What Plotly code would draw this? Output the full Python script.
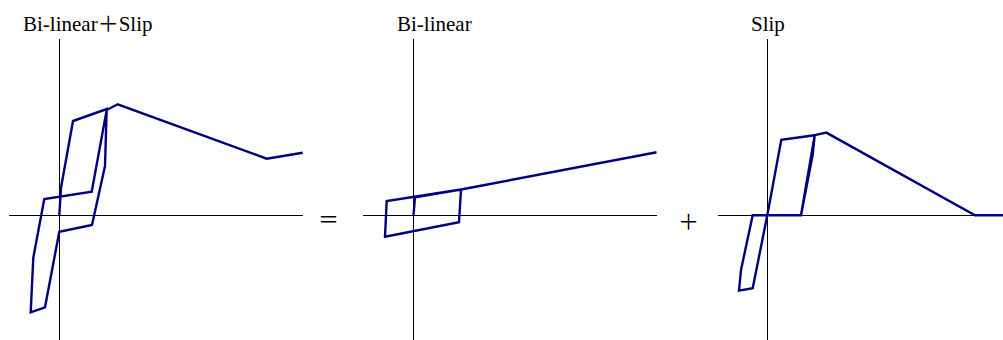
import plotly.graph_objects as go

# Hysteresis loops (displacement, force) for the three restoring-force models
combined_x = [0, 0.17, 1.37, 4.74, 4.57, 3.27, 0, -1.43, -2.86, -2.60, -1.50, 3.24, 4.74, 5.84, 20.74, 24.34]
combined_y = [0, 2.75, 9.42, 10.62, 4.92, -0.98, -1.65, -9.21, -9.71, -4.25, 1.62, 2.35, 10.52, 11.09, 5.65, 6.25]

bilinear_x = [0, 0.15, 4.75, 4.55, -2.85, -2.68, 4.75, 24.32]
bilinear_y = [0, 1.79, 2.57, -0.71, -2.15, 1.42, 2.57, 6.29]

slip_x = [0, 1.40, 4.74, 4.54, 3.37, -1.46, -2.63, -2.83, -1.46, 0, 3.37, 4.74, 5.90, 20.77, 23.57]
slip_y = [0, 7.53, 8.00, 6.03, 0, 0, -5.47, -7.54, -7.30, 0, 0, 8.00, 8.26, 0, 0]

titles = ["Bi-linear＋Slip", "Bi-linear", "Slip"]
operators = ["＝", "＋"]

W, H = 1003, 340
LINE_COLOR = "#000080"

fig = go.Figure()
series = [(combined_x, combined_y), (bilinear_x, bilinear_y), (slip_x, slip_y)]
for i, (xs, ys) in enumerate(series):
    suffix = "" if i == 0 else str(i + 1)
    fig.add_trace(go.Scatter(
        x=xs, y=ys, mode="lines",
        line=dict(color=LINE_COLOR, width=2.4),
        xaxis="x" + suffix, yaxis="y" + suffix,
        showlegend=False, hoverinfo="skip",
    ))

# panel geometry in pixels: left edge, right edge, origin x
panels = [(9.0, 303.0, 59.3), (363.3, 656.7, 413.5), (717.7, 1003.0, 767.3)]
origin_py = 215.2
top_py = 39.0
scale = 10.0  # pixels per data unit

axis_common = dict(showgrid=False, showticklabels=False, ticks="", showline=False,
                   zeroline=True, zerolinecolor="#000000", zerolinewidth=1,
                   fixedrange=True)
layout = {}
for i, (left, right, ox) in enumerate(panels):
    suffix = "" if i == 0 else str(i + 1)
    layout["xaxis" + suffix] = dict(
        domain=[left / W, min(right / W, 1.0)],
        range=[(left - ox) / scale, (right - ox) / scale],
        anchor="y" + suffix, **axis_common)
    layout["yaxis" + suffix] = dict(
        domain=[0, 1 - top_py / H],
        range=[(origin_py - H) / scale, (origin_py - top_py) / scale],
        anchor="x" + suffix, **axis_common)

title_font = dict(family="'Liberation Serif', 'Times New Roman', 'Noto Sans CJK JP', serif",
                  size=21, color="#000000")
title_pos = [87.5, 434.8, 768.3]
annotations = []
for t, cx in zip(titles, title_pos):
    annotations.append(dict(text=t, x=cx / W, y=1 - 24.5 / H, xref="paper", yref="paper",
                            xanchor="center", yanchor="middle", showarrow=False, font=title_font))
op_pos = [(328.0, 218.3), (688.8, 220.3)]
for t, (cx, cy) in zip(operators, op_pos):
    annotations.append(dict(text=t, x=cx / W, y=1 - cy / H, xref="paper", yref="paper",
                            xanchor="center", yanchor="middle", showarrow=False,
                            font=dict(family="'Noto Sans CJK JP'", size=21, color="#000000")))

fig.update_layout(
    width=W, height=H,
    margin=dict(l=0, r=0, t=0, b=0),
    paper_bgcolor="white", plot_bgcolor="white",
    annotations=annotations,
    **layout,
)

fig.write_html("out.html", config={"displayModeBar": False})
